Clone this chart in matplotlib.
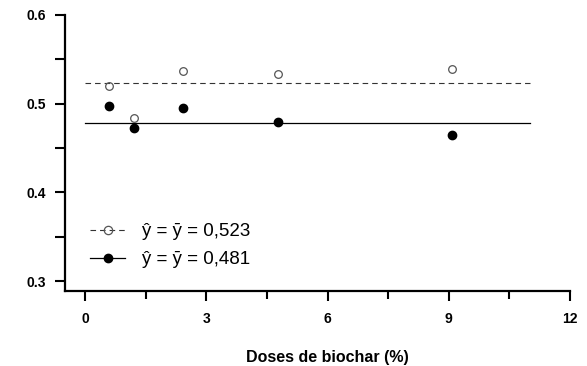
import numpy as np
import matplotlib
matplotlib.use("Agg")
import matplotlib.pyplot as plt
from matplotlib.lines import Line2D
from matplotlib.ticker import MultipleLocator, FormatStrFormatter

plt.rcParams["font.family"] = ["Liberation Sans", "DejaVu Sans"]

doses = [0.6, 1.22, 2.43, 4.76, 9.09]
open_vals = [0.520, 0.484, 0.537, 0.533, 0.539]
filled_vals = [0.497, 0.473, 0.495, 0.479, 0.465]
line_x = [0, 11]
mean_open = 0.523
mean_filled = 0.478
labels = ["\u0177 = \u0233 = 0,523", "\u0177 = \u0233 = 0,481"]

fig = plt.figure(figsize=(5.87, 3.66), dpi=100)
ax = fig.add_axes([65 / 587, 1 - 291 / 366, 505 / 587, 276 / 366])

dash = (0, (5, 3.6))
ax.plot(line_x, [mean_open] * 2, color="#333333", lw=0.8, linestyle=dash)
ax.plot(line_x, [mean_filled] * 2, color="black", lw=0.9)
ax.plot(doses, open_vals, "o", ms=5.5, mfc="none", mec="#555555", mew=0.9)
ax.plot(doses, filled_vals, "o", ms=6, color="black")

ax.set_xlim(-0.5, 12)
ax.set_ylim(0.2888, 0.6)
ax.xaxis.set_major_locator(MultipleLocator(3))
ax.xaxis.set_minor_locator(MultipleLocator(1.5))
ax.yaxis.set_major_locator(MultipleLocator(0.1))
ax.yaxis.set_minor_locator(MultipleLocator(0.05))
ax.yaxis.set_major_formatter(FormatStrFormatter("%.1f"))
ax.set_xticks(np.arange(0, 13, 3))

for s in ["top", "right"]:
    ax.spines[s].set_visible(False)
for s in ["left", "bottom"]:
    ax.spines[s].set_linewidth(1.6)

ax.tick_params(which="both", direction="out", width=1.5, labelsize=10)
ax.tick_params(axis="y", which="major", length=7.5, pad=6)
ax.tick_params(axis="y", which="minor", length=7.5)
ax.tick_params(axis="x", which="major", length=7, pad=8)
ax.tick_params(axis="x", which="minor", length=6)
for lab in ax.get_xticklabels() + ax.get_yticklabels():
    lab.set_fontweight("bold")

ax.set_xlabel("Doses de biochar (%)", fontsize=11.5, fontweight="bold")
ax.xaxis.set_label_coords(0.52, -0.215)

handles = [
    Line2D([], [], color="#333333", lw=0.8, linestyle=dash, marker="o",
           ms=6, mfc="none", mec="#555555", mew=0.9),
    Line2D([], [], color="black", lw=0.9, marker="o", ms=6),
]
ax.legend(handles, labels, loc="upper left", bbox_to_anchor=(90 / 587, 1 - 223 / 366),
          bbox_transform=fig.transFigure, frameon=False, fontsize=13.5,
          handlelength=1.87, handletextpad=0.89, labelspacing=0.6, borderpad=0,
          borderaxespad=0)

fig.savefig("out.png", dpi=100)
